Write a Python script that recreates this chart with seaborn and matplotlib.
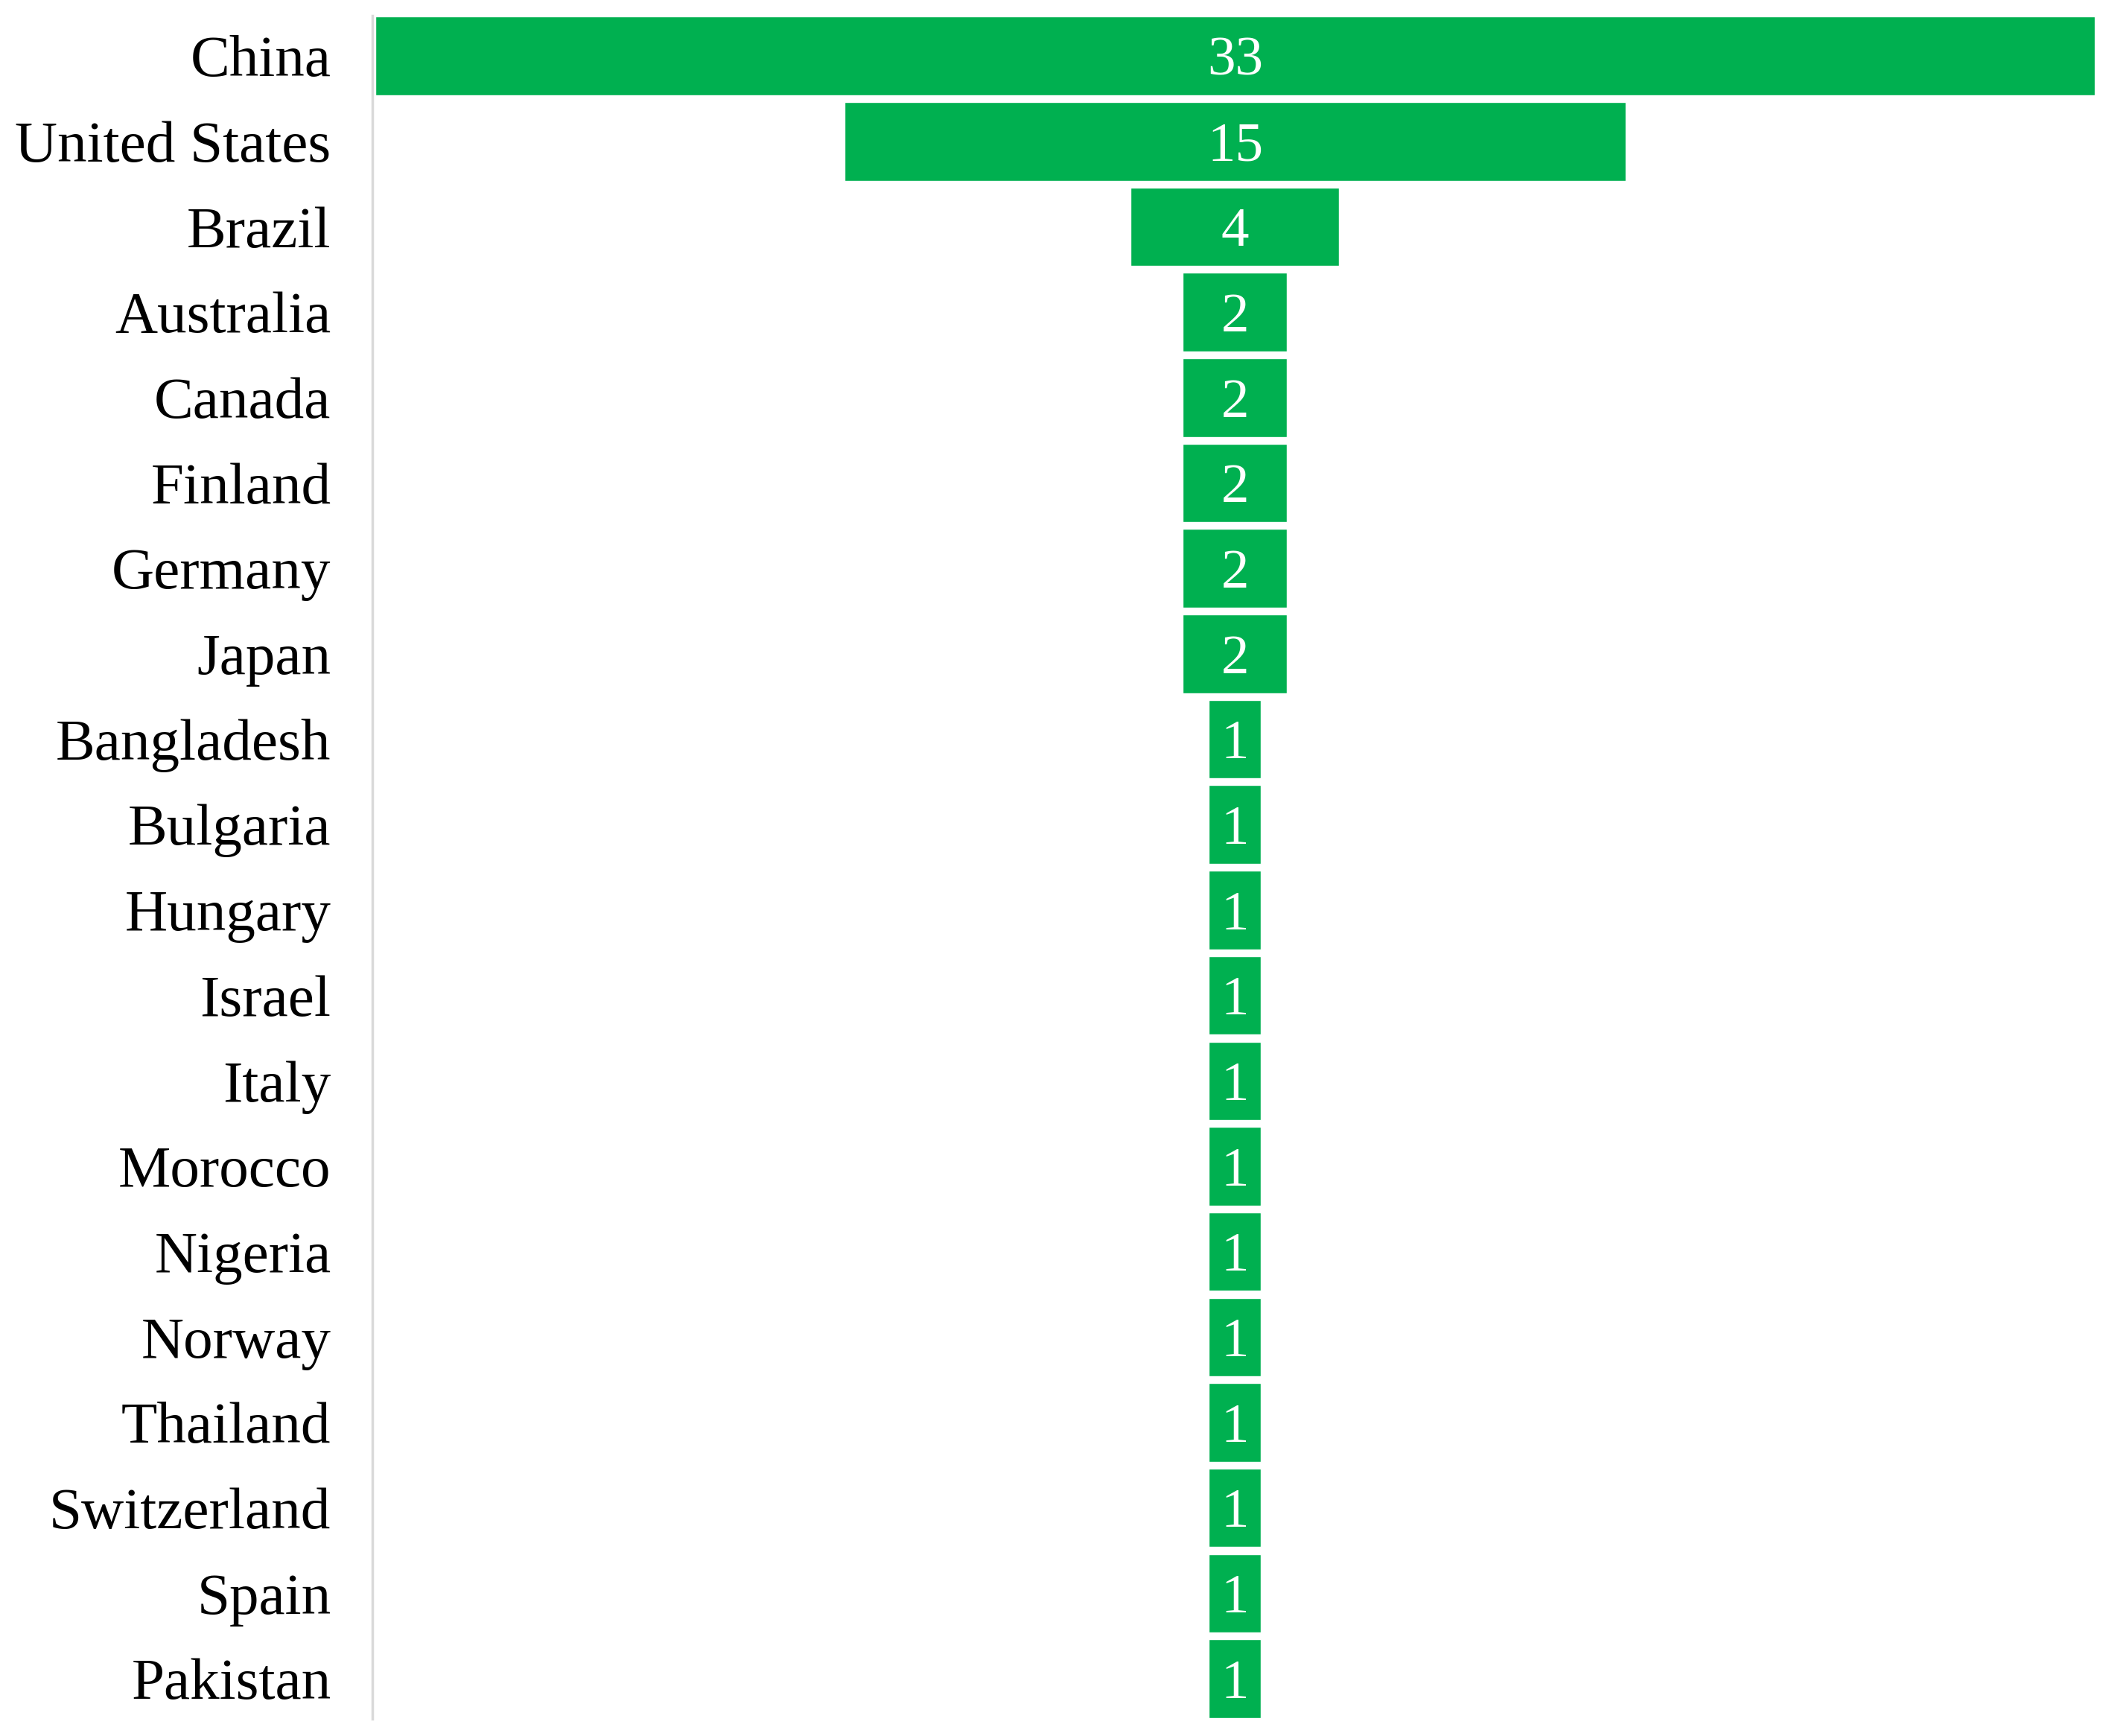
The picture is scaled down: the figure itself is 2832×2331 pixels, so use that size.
import matplotlib
matplotlib.use("Agg")
import matplotlib.pyplot as plt
import seaborn as sns

countries = ['China', 'United States', 'Brazil', 'Australia', 'Canada', 'Finland',
             'Germany', 'Japan', 'Bangladesh', 'Bulgaria', 'Hungary', 'Israel',
             'Italy', 'Morocco', 'Nigeria', 'Norway', 'Thailand', 'Switzerland',
             'Spain', 'Pakistan']
counts = [33, 15, 4, 2, 2, 2, 2, 2, 1, 1, 1, 1, 1, 1, 1, 1, 1, 1, 1, 1]

sns.set_style('white')
plt.rcParams['font.family'] = ['Liberation Serif', 'DejaVu Serif']

fig = plt.figure(figsize=(28.32, 23.31), dpi=100)
ax = fig.add_axes([0.1766, 0.0099, 0.818, 0.981])

sns.barplot(x=counts, y=countries, color='#00B050', saturation=1, width=0.92,
            orient='h', ax=ax)

# centre each bar on zero to get the funnel shape
for bar in ax.containers[0]:
    bar.set_x(-bar.get_width() / 2)
labels = ax.bar_label(ax.containers[0], labels=[str(c) for c in counts],
                      label_type='center', color='white', fontsize=54)
for t in labels:
    t.set_verticalalignment('center_baseline')

ax.set_xlim(-16.55, 16.55)
ax.set_ylim(19.47, -0.47)
ax.set_xlabel('')
ax.set_ylabel('')
ax.set_xticks([])
ax.tick_params(axis='y', length=0, pad=40, labelsize=57, labelcolor='black')
for side in ['top', 'right', 'bottom']:
    ax.spines[side].set_visible(False)
ax.spines['left'].set_color('#D9D9D9')
ax.spines['left'].set_linewidth(2.5)

fig.savefig('out.png', dpi=100, facecolor='white')
